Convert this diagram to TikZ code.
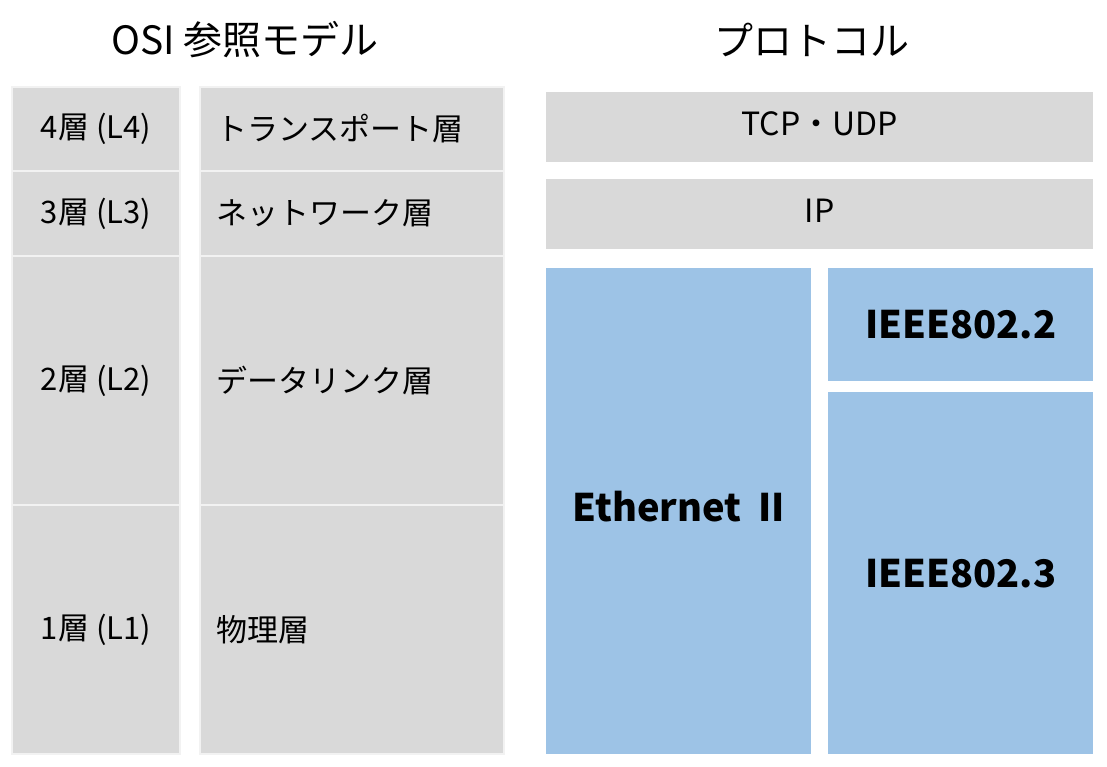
\documentclass[tikz,border=0pt]{standalone}
\usepackage{fontspec}
\setmainfont{Noto Sans CJK JP}
\definecolor{layergray}{HTML}{D9D9D9}
\definecolor{protoblue}{HTML}{9DC3E6}

\tikzset{
  title/.style={font=\fontsize{39}{44}\selectfont},
  cell/.style={draw=white!95!black, line width=2pt, fill=layergray, anchor=north west,
    inner sep=0pt, font=\fontsize{31}{36}\selectfont},
  namecell/.style={cell, align=left, inner xsep=16pt, text width=272pt},
  proto/.style={fill=layergray, anchor=north west, inner sep=0pt,
    font=\fontsize{32}{36}\selectfont},
  link/.style={fill=protoblue, anchor=north west, inner sep=0pt,
    font=\bfseries\fontsize{38}{44}\selectfont},
}

\begin{document}
\begin{tikzpicture}[x=1pt,y=-1pt]
\useasboundingbox (0,0) rectangle (1107,767);

% titles
\node[title] (osi) at (245,40) {OSI 参照モデル};
\node[title] (prot) at (812,40) {プロトコル};

% OSI layers
\node[cell, minimum width=168pt, minimum height=84pt] (l4) at (11,86) {4層 (L4)};
\node[cell, minimum width=168pt, minimum height=85pt] (l3) at (11,170) {3層 (L3)};
\node[cell, minimum width=168pt, minimum height=249pt] (l2) at (11,255) {2層 (L2)};
\node[cell, minimum width=168pt, minimum height=249pt] (l1) at (11,504) {1層 (L1)};
\node[namecell, minimum width=304pt, minimum height=84pt] (n4) at (199,86) {トランスポート層};
\node[namecell, minimum width=304pt, minimum height=85pt] (n3) at (199,170) {ネットワーク層};
\node[namecell, minimum width=304pt, minimum height=249pt] (n2) at (199,255) {データリンク層};
\node[namecell, minimum width=304pt, minimum height=249pt] (n1) at (199,504) {物理層};

% protocols
\node[proto, minimum width=547pt, minimum height=70pt] (tcp) at (546,92) {\raisebox{8pt}{TCP・UDP}};
\node[proto, minimum width=547pt, minimum height=70pt] (ip) at (546,179) {\raisebox{7pt}{IP}};
\node[link, minimum width=265pt, minimum height=486pt] (eth) at (546,268) {\raisebox{10pt}{Ethernet\hspace{0.45em}II}\hspace{6pt}};
\node[link, minimum width=265pt, minimum height=113pt] (llc) at (828,268) {IEEE802.2};
\node[link, minimum width=265pt, minimum height=362pt] (mac) at (828,392) {IEEE802.3};
\end{tikzpicture}
\end{document}
